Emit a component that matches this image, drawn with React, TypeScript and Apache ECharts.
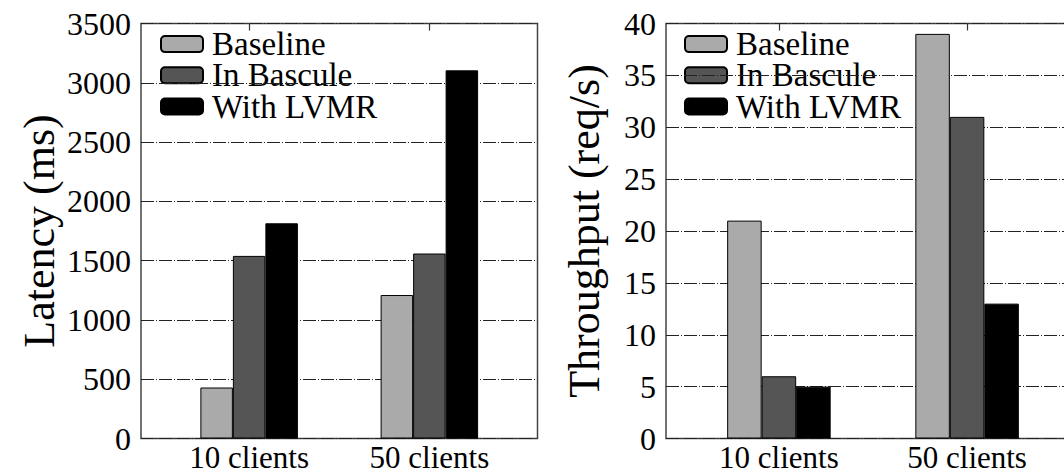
import React, { useEffect, useRef } from "react";
import * as echarts from "echarts";

const categories = ["10 clients", "50 clients"];
const seriesNames = ["Baseline", "In Bascule", "With LVMR"];
const seriesColors = ["#aaaaaa", "#555555", "#000000"];

const latencyBaseline = [430, 1210];
const latencyBascule = [1540, 1560];
const latencyLVMR = [1815, 3105];

const throughputBaseline = [21, 39];
const throughputBascule = [6, 31];
const throughputLVMR = [5, 13];

const latencyTicks = [0, 500, 1000, 1500, 2000, 2500, 3000, 3500];
const throughputTicks = [0, 5, 10, 15, 20, 25, 30, 35, 40];

const FONT = "'Liberation Serif', 'Times New Roman', serif";

export default function App() {
  const ref = useRef<HTMLDivElement>(null);
  useEffect(() => {
    document.body.style.margin = "0";
    const chart = echarts.init(ref.current!, null, { renderer: "svg" });
    const catIdx = categories.map((_, i) => i);
    const toPairs = (vals: number[]) => vals.map((v, i) => [i, v]);

    const xBase = (gridIndex: number) => ({
      type: "value",
      gridIndex,
      min: -0.6,
      max: 1.6,
      axisLine: { show: false },
      splitLine: { show: false },
      axisTick: { show: false },
      axisLabel: {
        customValues: catIdx,
        formatter: (v: number) => categories[Math.round(v)] ?? "",
        fontFamily: FONT,
        fontSize: 31,
        lineHeight: 30,
        color: "#000",
        margin: 4,
      },
    });
    const xTop = (gridIndex: number) => ({
      type: "value",
      gridIndex,
      position: "top",
      min: -0.6,
      max: 1.6,
      axisLine: { show: false },
      splitLine: { show: false },
      axisLabel: { show: false },
      axisTick: {
        show: true,
        inside: true,
        length: 7,
        customValues: catIdx,
        lineStyle: { color: "#333", width: 1.2 },
      },
    });
    const yAxis = (gridIndex: number, ticks: number[], name: string, nameGap: number) => ({
      type: "value",
      gridIndex,
      min: ticks[0],
      max: ticks[ticks.length - 1],
      interval: ticks[1] - ticks[0],
      name,
      nameLocation: "middle",
      nameRotate: 90,
      nameGap,
      nameTextStyle: { fontFamily: FONT, fontSize: 44, color: "#000" },
      axisLine: { show: false },
      axisTick: { show: false },
      axisLabel: {
        fontFamily: FONT,
        fontSize: 32,
        color: "#000",
        margin: 10,
        formatter: (v: number) => String(v),
      },
      splitLine: {
        show: true,
        lineStyle: { color: "#222", width: 1.2, type: [13, 2, 1, 2] },
      },
    });

    const barSeries = (names: string[], data: number[][], idx: number, width: number) =>
      names.map((n, k) => ({
        name: n,
        type: "bar",
        xAxisIndex: idx * 2,
        yAxisIndex: idx,
        barWidth: width,
        barGap: "0%",
        data: toPairs(data[k]),
        itemStyle: { color: seriesColors[k], borderColor: "#000", borderWidth: 1 },
      }));

    const legend = (left: number) => ({
      orient: "vertical",
      left,
      top: 27.6,
      padding: 0,
      itemWidth: 42,
      itemHeight: 16,
      itemGap: -1.8,
      z: -1,
      selectedMode: false,
      data: seriesNames,
      textStyle: {
        fontFamily: FONT,
        fontSize: 33,
        lineHeight: 30,
        color: "#000",
        padding: [0, 0, 0, 4],
      },
    });

    chart.setOption({
      animation: false,
      backgroundColor: "#fff",
      textStyle: { fontFamily: FONT, color: "#000" },
      grid: [
        {
          left: 141, top: 23.5, width: 396.5, height: 415,
          show: true, borderColor: "#444", borderWidth: 1.5,
          outerBoundsMode: "none", containLabel: false,
        },
        {
          left: 666, top: 23.5, width: 414, height: 415,
          show: true, borderColor: "#444", borderWidth: 1.5,
          outerBoundsMode: "none", containLabel: false,
        },
      ],
      legend: [legend(160), legend(684)],
      xAxis: [xBase(0), xTop(0), xBase(1), xTop(1)],
      yAxis: [
        yAxis(0, latencyTicks, "Latency (ms)", 80),
        yAxis(1, throughputTicks, "Throughput (req/s)", 60),
      ],
      series: [
        ...barSeries(seriesNames, [latencyBaseline, latencyBascule, latencyLVMR], 0, 32.5),
        ...barSeries(seriesNames, [throughputBaseline, throughputBascule, throughputLVMR], 1, 34.5),
      ],
    });
    return () => chart.dispose();
  }, []);
  return <div ref={ref} style={{ width: 1064, height: 474 }} />;
}
